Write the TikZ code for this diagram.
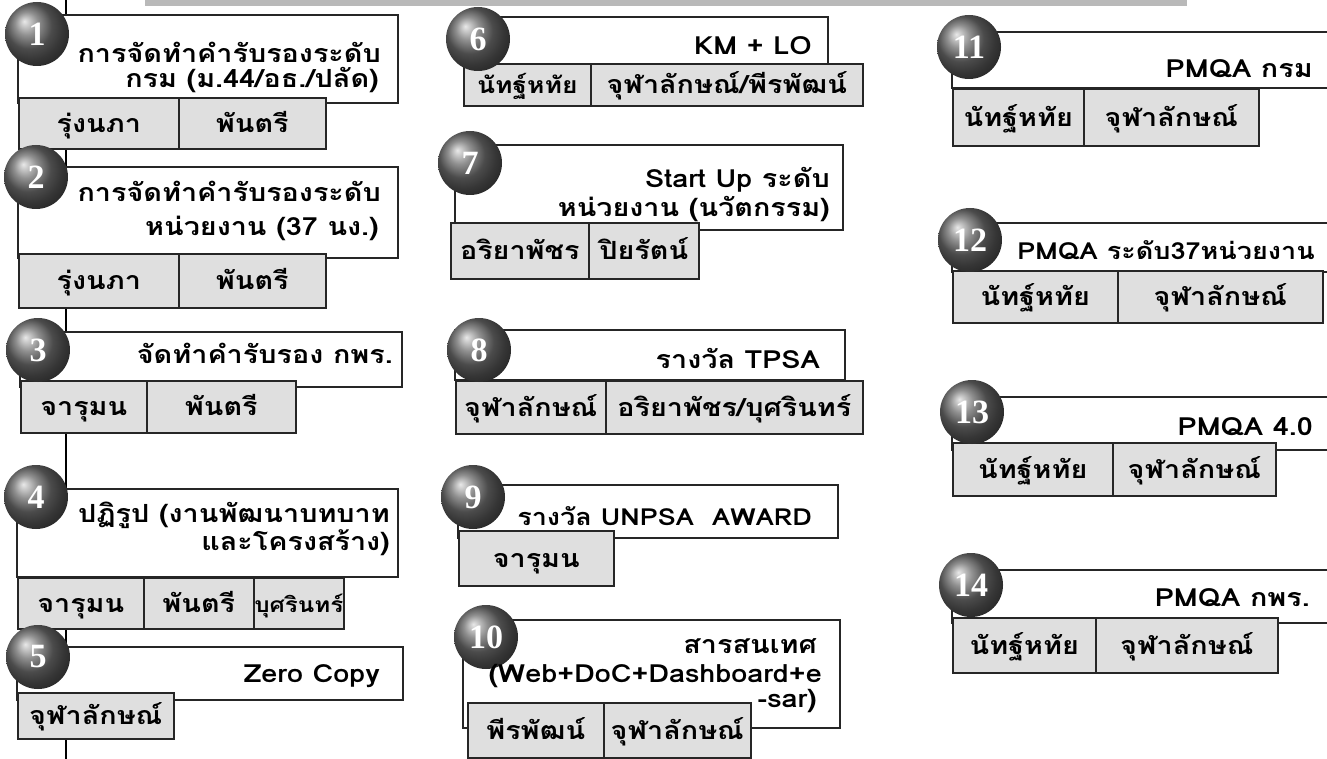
\documentclass[tikz,border=0pt]{standalone}
\usepackage{fontspec}
\setmainfont{Loma}[Script=Thai, FakeStretch=1.15]
\newfontfamily\numfont{Liberation Serif}
\usetikzlibrary{fit,shadings}
\tikzset{
  tbox/.style={draw=black!85, fill=white, line width=1.6, inner sep=0},
  cellbox/.style={draw=black!85, fill=gray!25, line width=1.6, inner sep=0, anchor=north west,
     text height=18, text depth=0, font=\fontsize{25}{25}\selectfont\bfseries},
  ballnode/.style={circle, minimum size=64, inner sep=0, shading=ball, ball color=black!58,
     text=white, font=\numfont\fontsize{34}{34}\selectfont\bfseries},
  ttl/.style={inner sep=0, anchor=base east, font=\fontsize{25}{25}\selectfont\bfseries},
  vline/.style={line width=2, black}
}
\newcommand\cellat[6]{\node[cellbox, minimum width=#3, minimum height=#4, #6] (#5) at (#1,#2)}
\begin{document}
\begin{tikzpicture}[x=1pt,y=-1pt]
\clip (0,0) rectangle (1327,759);
\fill[white] (0,0) rectangle (1327,759);
% top band
\node[fill=gray!55, inner sep=0, fit={(145,0)(1187,6)}] (band) {};
% timeline
\coordinate (vt) at (66,0);
\coordinate (vb) at (66,759);
\draw[vline] (vt) -- (vb);
% boxes
\node[tbox, fit={(18,15)(398,103)}] (b1) {};
\node[tbox, fit={(18,167)(398,258)}] (b2) {};
\node[tbox, fit={(20,332)(402,387)}] (b3) {};
\node[tbox, fit={(17,489)(398,577)}] (b4) {};
\node[tbox, fit={(17,647)(403,700)}] (b5) {};
\node[tbox, fit={(463,17)(828,65)}] (b6) {};
\node[tbox, fit={(455,145)(843,230)}] (b7) {};
\node[tbox, fit={(455,330)(845,380)}] (b8) {};
\node[tbox, fit={(458,485)(838,538)}] (b9) {};
\node[tbox, fit={(463,620)(840,728)}] (b10) {};
\node[tbox, fit={(952,32)(1340,88)}] (b11) {};
\node[tbox, fit={(952,223)(1340,272)}] (b12) {};
\node[tbox, fit={(952,397)(1340,450)}] (b13) {};
\node[tbox, fit={(952,570)(1340,623)}] (b14) {};
% cells
\cellat{18}{97}{160}{51}{c1a}{} {รุ่งนภา};
\cellat{178}{97}{147}{51}{c1b}{} {พันตรี};
\cellat{18}{253}{160}{54}{c2a}{} {รุ่งนภา};
\cellat{178}{253}{147}{54}{c2b}{} {พันตรี};
\cellat{20}{380}{126}{52}{c3a}{} {จารุมน};
\cellat{146}{380}{149}{52}{c3b}{} {พันตรี};
\cellat{17}{577}{126}{51}{c4a}{} {จารุมน};
\cellat{143}{577}{110}{51}{c4b}{} {พันตรี};
\cellat{253}{577}{90}{51}{c4c}{font=\fontsize{21}{21}\selectfont\bfseries} {บุศรินทร์};
\cellat{17}{692}{156}{46}{c5a}{} {จุฬาลักษณ์};
\cellat{463}{63}{127}{42}{c6a}{font=\fontsize{23}{23}\selectfont\bfseries} {นัทฐ์หทัย};
\cellat{590}{63}{272}{42}{c6b}{} {จุฬาลักษณ์/พีรพัฒน์};
\cellat{450}{222}{138}{56}{c7a}{} {อริยาพัชร};
\cellat{588}{222}{110}{56}{c7b}{} {ปิยรัตน์};
\cellat{455}{380}{150}{53}{c8a}{} {จุฬาลักษณ์};
\cellat{605}{380}{257}{53}{c8b}{} {อริยาพัชร/บุศรินทร์};
\cellat{458}{530}{155}{55}{c9a}{} {จารุมน};
\cellat{467}{702}{136}{55}{c10a}{} {พีรพัฒน์};
\cellat{603}{702}{147}{55}{c10b}{} {จุฬาลักษณ์};
\cellat{952}{88}{131}{57}{c11a}{} {นัทฐ์หทัย};
\cellat{1083}{88}{175}{57}{c11b}{} {จุฬาลักษณ์};
\cellat{952}{270}{165}{52}{c12a}{} {นัทฐ์หทัย};
\cellat{1117}{270}{205}{52}{c12b}{} {จุฬาลักษณ์};
\cellat{952}{442}{160}{53}{c13a}{} {นัทฐ์หทัย};
\cellat{1112}{442}{163}{53}{c13b}{} {จุฬาลักษณ์};
\cellat{952}{617}{143}{55}{c14a}{} {นัทฐ์หทัย};
\cellat{1095}{617}{182}{55}{c14b}{} {จุฬาลักษณ์};
% balls
\node[ballnode] (n1) at (37,34) {1};
\node[ballnode] (n2) at (36,177) {2};
\node[ballnode] (n3) at (38,350) {3};
\node[ballnode] (n4) at (36,497) {4};
\node[ballnode] (n5) at (38,657) {5};
\node[ballnode] (n6) at (478,39) {6};
\node[ballnode] (n7) at (470,163) {7};
\node[ballnode] (n8) at (479,350) {8};
\node[ballnode] (n9) at (473,497) {9};
\node[ballnode] (n10) at (486,637) {10};
\node[ballnode] (n11) at (969,47) {11};
\node[ballnode] (n12) at (970,240) {12};
\node[ballnode] (n13) at (972,412) {13};
\node[ballnode] (n14) at (971,585) {14};
% titles
\node[ttl] (t1a) at (381,63) {การจัดทำคำรับรองระดับ};
\node[ttl] (t1b) at (379,88) {กรม (ม.44/อธ./ปลัด)};
\node[ttl] (t2a) at (381,202) {การจัดทำคำรับรองระดับ};
\node[ttl] (t2b) at (379,236) {หน่วยงาน (37 นง.)};
\node[ttl] (t3) at (393,363) {จัดทำคำรับรอง กพร.};
\node[ttl] (t4a) at (390,522) {ปฏิรูป (งานพัฒนาบทบาท};
\node[ttl] (t4b) at (390,550) {และโครงสร้าง)};
\node[ttl] (t5) at (380,682) {Zero Copy};
\node[ttl] (t6) at (812,55) {KM + LO};
\node[ttl] (t7a) at (830,188) {Start Up ระดับ};
\node[ttl] (t7b) at (830,217) {หน่วยงาน (นวัตกรรม)};
\node[ttl] (t8) at (820,368) {รางวัล TPSA};
\node[ttl, font=\fontsize{23.5}{23.5}\selectfont\bfseries] (t9) at (812,525) {รางวัล UNPSA\ \ AWARD};
\node[ttl] (t10a) at (817,653) {สารสนเทศ};
\node[ttl] (t10b) at (822,682) {(Web+DoC+Dashboard+e};
\node[ttl] (t10c) at (817,707) {-sar)};
\node[ttl] (t11) at (1313,78) {PMQA กรม};
\node[ttl, font=\fontsize{23.5}{23.5}\selectfont\bfseries] (t12) at (1315,260) {PMQA ระดับ37หน่วยงาน};
\node[ttl] (t13) at (1313,435) {PMQA 4.0};
\node[ttl] (t14) at (1310,606) {PMQA กพร.};
\end{tikzpicture}
\end{document}
